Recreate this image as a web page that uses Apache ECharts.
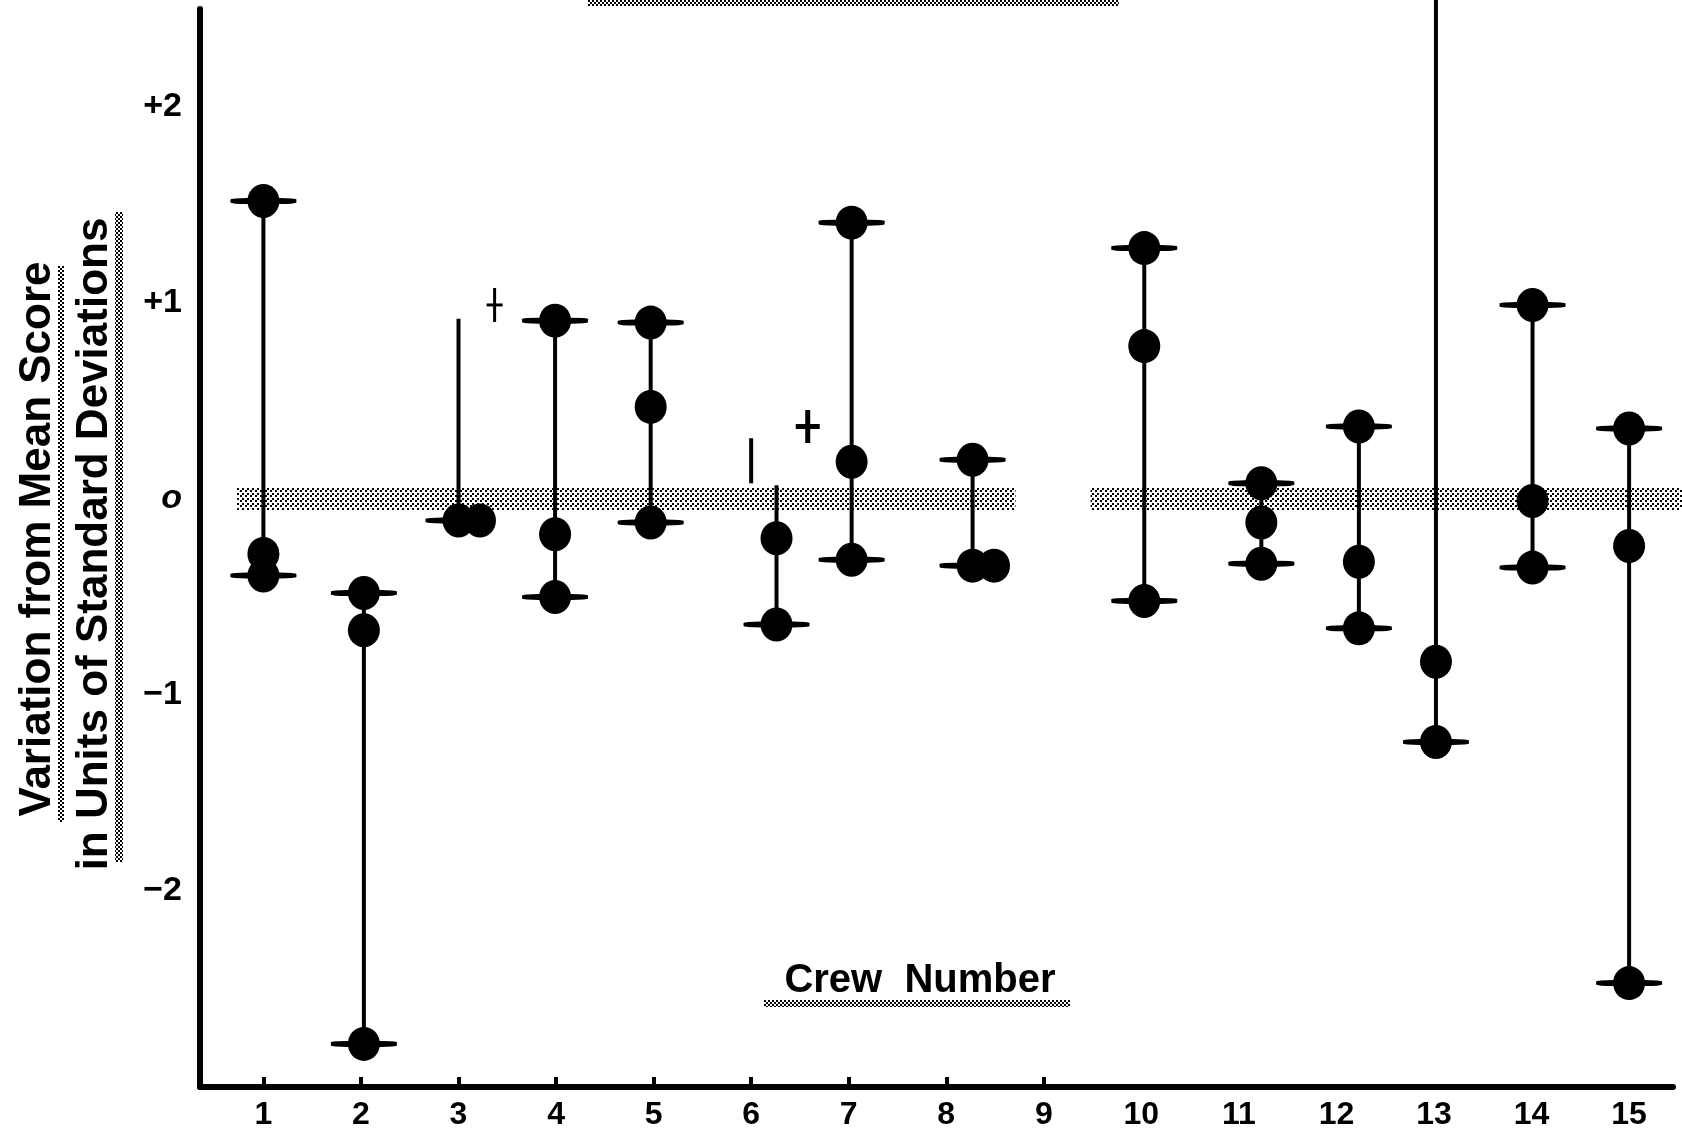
<!DOCTYPE html>
<html>
<head>
<meta charset="utf-8">
<script src="https://cdn.jsdelivr.net/npm/echarts@6/dist/echarts.min.js"></script>
<style>
  html, body { margin: 0; padding: 0; background: #fff; }
  #chart { width: 1682px; height: 1136px; }
</style>
</head>
<body>
<div id="chart"></div>
<script>
// ---------------- DATA ----------------
const crewLabels = [1, 2, 3, 4, 5, 6, 7, 8, 9, 10, 11, 12, 13, 14, 15];
const tickedCrews = [1, 2, 3, 4, 5, 6, 7, 8, 9];
const yTickLabels = { '2': '+2', '1': '+1', '0': '{z|o}', '-1': '\u22121', '-2': '\u22122' };

// range line of each crew (x position on the crew axis, upper and lower end)
const lineX  = [1.00, 2.03, 3.00, 3.99, 4.97, 6.26, 7.03, 8.27, 10.03, 11.23, 12.23, 13.02, 14.01, 15.00];
const lineHi = [1.52, -0.48, 0.92, 0.91, 0.90, 0.07, 1.41, 0.20, 1.28, 0.08, 0.37, 2.60, 0.99, 0.36];
const lineLo = [-0.39, -2.78, -0.11, -0.50, -0.12, -0.64, -0.31, -0.34, -0.52, -0.33, -0.66, -1.24, -0.35, -2.47];

// score dots
const dotX = [1.00, 1.00, 1.00,
              2.03, 2.03, 2.03,
              3.00, 3.22,
              3.99, 3.99, 3.99,
              4.97, 4.97, 4.97,
              6.26, 6.26,
              7.03, 7.03, 7.03,
              8.27, 8.27, 8.49,
              10.03, 10.03, 10.03,
              11.23, 11.23, 11.23,
              12.23, 12.23, 12.23,
              13.02, 13.02,
              14.01, 14.01, 14.01,
              15.00, 15.00, 15.00];
const dotY = [1.52, -0.28, -0.39,
              -0.48, -0.67, -2.78,
              -0.11, -0.11,
              0.91, -0.18, -0.50,
              0.90, 0.47, -0.12,
              -0.20, -0.64,
              1.41, 0.19, -0.31,
              0.20, -0.34, -0.34,
              1.28, 0.78, -0.52,
              0.08, -0.12, -0.33,
              0.37, -0.32, -0.66,
              -0.83, -1.24,
              0.99, -0.01, -0.35,
              0.36, -0.24, -2.47];

// horizontal end-marks
const endX = [1.00, 1.00, 2.03, 2.03, 3.00, 3.99, 3.99, 4.97, 4.97, 6.26, 7.03, 7.03,
              8.27, 8.27, 10.03, 10.03, 11.23, 11.23, 12.23, 12.23, 13.02, 14.01, 14.01, 15.00, 15.00];
const endY = [1.52, -0.39, -0.48, -2.78, -0.11, 0.91, -0.50, 0.90, -0.12, -0.64, 1.41, -0.31,
              0.20, -0.34, 1.28, -0.52, 0.08, -0.33, 0.37, -0.66, -1.24, 0.99, -0.35, 0.36, -2.47];

// zero reference band segments
const bandStart = [0.73, 9.48];
const bandEnd   = [8.71, 15.60];

// stray annotation marks
const plusX = [3.37, 6.58];
const plusY = [0.99, 0.37];
const barX  = [6.00];
const barHi = [0.31];
const barLo = [0.08];

// ---------------- STYLE HELPERS ----------------
function stipple(size, dots) {
  const c = document.createElement('canvas');
  c.width = size; c.height = size;
  const g = c.getContext('2d');
  g.fillStyle = '#000';
  dots.forEach(d => g.fillRect(d[0], d[1], 2, 2));
  return { image: c, repeat: 'repeat' };
}
const pat = stipple(4, [[0, 0], [2, 2]]);
const bandPat = stipple(5, [[0, 0], [2, 3]]);
const plusStyle = [{ w: 16, h: 34, lw: 3 }, { w: 24, h: 33, lw: 5 }];
const FONT = '"Liberation Sans", Arial, Helvetica, sans-serif';

const chart = echarts.init(document.getElementById('chart'), null, { renderer: 'canvas' });

const option = {
  backgroundColor: '#fff',
  animation: false,
  grid: { left: 200, right: 9, top: 9, bottom: 49 },
  xAxis: {
    type: 'value', min: 0.35, max: 15.45,
    axisLine: { onZero: false, lineStyle: { color: '#000', width: 6 } },
    axisTick: { show: true, inside: true, length: 10, customValues: tickedCrews, lineStyle: { color: '#000', width: 4 } },
    axisLabel: { customValues: crewLabels, color: '#000', fontFamily: FONT, fontWeight: 'bold', fontSize: 32, margin: 12 },
    splitLine: { show: false }
  },
  yAxis: {
    type: 'value', min: -3, max: 2.5, interval: 1,
    axisLine: { show: true, onZero: false, lineStyle: { color: '#000', width: 6 } },
    axisTick: { show: false },
    splitLine: { show: false },
    axisLabel: {
      color: '#000', fontFamily: FONT, fontWeight: 'bold', fontSize: 34, margin: 18,
      formatter: function (v) {
        const k = String(v);
        return yTickLabels.hasOwnProperty(k) ? yTickLabels[k] : '';
      },
      rich: {
        z: { fontStyle: 'italic', fontFamily: FONT, fontWeight: 'bold', fontSize: 34, color: '#000' }
      }
    }
  },
  series: [
    {
      type: 'custom', name: 'zero band', z: 1, clip: false, silent: true,
      data: bandStart.map((s, i) => [s, bandEnd[i], 0]),
      renderItem: function (params, api) {
        const a = api.coord([api.value(0), api.value(2)]);
        const b = api.coord([api.value(1), api.value(2)]);
        return { type: 'rect', shape: { x: a[0], y: a[1] - 11, width: b[0] - a[0], height: 22 }, style: { fill: bandPat } };
      }
    },
    {
      type: 'custom', name: 'range', z: 2, clip: false, silent: true,
      data: lineX.map((x, i) => [x, lineHi[i], lineLo[i]]),
      renderItem: function (params, api) {
        const a = api.coord([api.value(0), api.value(1)]);
        const b = api.coord([api.value(0), api.value(2)]);
        return { type: 'line', shape: { x1: a[0], y1: a[1], x2: b[0], y2: b[1] }, style: { stroke: '#000', lineWidth: 4 } };
      }
    },
    {
      type: 'custom', name: 'marks', z: 2, clip: false, silent: true,
      data: plusX.map((x, i) => [x, plusY[i], i]),
      renderItem: function (params, api) {
        const p = api.coord([api.value(0), api.value(1)]);
        const s = plusStyle[api.value(2)];
        return {
          type: 'group', children: [
            { type: 'line', shape: { x1: p[0] - s.w / 2, y1: p[1], x2: p[0] + s.w / 2, y2: p[1] }, style: { stroke: '#000', lineWidth: s.lw } },
            { type: 'line', shape: { x1: p[0], y1: p[1] - s.h / 2, x2: p[0], y2: p[1] + s.h / 2 }, style: { stroke: '#000', lineWidth: s.lw } }
          ]
        };
      }
    },
    {
      type: 'custom', name: 'bar mark', z: 2, clip: false, silent: true,
      data: barX.map((x, i) => [x, barHi[i], barLo[i]]),
      renderItem: function (params, api) {
        const a = api.coord([api.value(0), api.value(1)]);
        const b = api.coord([api.value(0), api.value(2)]);
        return { type: 'line', shape: { x1: a[0], y1: a[1], x2: b[0], y2: b[1] }, style: { stroke: '#000', lineWidth: 4 } };
      }
    },
    {
      type: 'scatter', name: 'ends', z: 3, silent: true,
      symbol: 'roundRect', symbolSize: [66, 6],
      itemStyle: { color: '#000', opacity: 1 },
      data: endX.map((x, i) => [x, endY[i]])
    },
    {
      type: 'scatter', name: 'scores', z: 4, silent: true,
      symbol: 'circle', symbolSize: [32, 34],
      itemStyle: { color: '#000', opacity: 1 },
      data: dotX.map((x, i) => [x, dotY[i]])
    }
  ],
  graphic: [
    { type: 'rect', shape: { x: 588, y: 0, width: 531, height: 6 }, style: { fill: pat } },
    {
      type: 'text', x: 38, y: 539, rotation: Math.PI / 2,
      style: { text: 'Variation from Mean Score', font: 'bold 44px ' + FONT, fill: '#000', textAlign: 'center', textVerticalAlign: 'middle' }
    },
    { type: 'rect', shape: { x: 58, y: 266, width: 6, height: 556 }, style: { fill: pat } },
    {
      type: 'text', x: 95, y: 544, rotation: Math.PI / 2,
      style: { text: 'in Units of Standard Deviations', font: 'bold 44px ' + FONT, fill: '#000', textAlign: 'center', textVerticalAlign: 'middle' }
    },
    { type: 'rect', shape: { x: 115, y: 212, width: 8, height: 650 }, style: { fill: pat } },
    {
      type: 'text', x: 920, y: 981,
      style: { text: 'Crew  Number', font: 'bold 40px ' + FONT, fill: '#000', textAlign: 'center', textVerticalAlign: 'middle' }
    },
    { type: 'rect', shape: { x: 764, y: 1000, width: 306, height: 7 }, style: { fill: pat } }
  ]
};
chart.setOption(option);
</script>
</body>
</html>
